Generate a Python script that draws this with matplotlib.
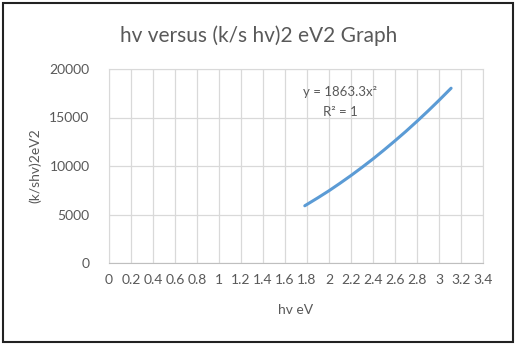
import matplotlib.pyplot as plt
from matplotlib.patches import Rectangle

# values
hv = [1.78, 1.9, 2.0, 2.1, 2.2, 2.3, 2.4, 2.5, 2.6, 2.7, 2.8, 2.9, 3.0, 3.11]
ks_hv2 = [5900, 6730, 7450, 8220, 9020, 9860, 10730, 11650, 12600, 13580, 14610, 15670, 16770, 18020]
xticks = [0, 0.2, 0.4, 0.6, 0.8, 1, 1.2, 1.4, 1.6, 1.8, 2, 2.2, 2.4, 2.6, 2.8, 3, 3.2, 3.4]
xticklabels = ['0', '0.2', '0.4', '0.6', '0.8', '1', '1.2', '1.4', '1.6', '1.8',
               '2', '2.2', '2.4', '2.6', '2.8', '3', '3.2', '3.4']
yticks = [0, 5000, 10000, 15000, 20000]

plt.rcParams['font.family'] = ['Lato', 'DejaVu Sans']
grey = '#595959'

fig = plt.figure(figsize=(5.18, 3.49), dpi=100)
ax = fig.add_axes([109/518, 1-263/349, 374/518, 194/349])

ax.plot(hv, ks_hv2, color='#5B9BD5', lw=2.2, solid_capstyle='round')

ax.set_xlim(0, 3.4)
ax.set_ylim(0, 20000)
ax.set_xticks(xticks)
ax.set_xticklabels(xticklabels)
ax.set_yticks(yticks)
ax.grid(True, color='#D9D9D9', lw=0.9)
ax.set_axisbelow(True)
for s in ['top', 'right', 'left']:
    ax.spines[s].set_color('#D9D9D9')
ax.spines['bottom'].set_color('#BFBFBF')
ax.tick_params(length=0, colors=grey, labelsize=10, pad=8)
ax.tick_params(axis='y', pad=14)

ax.set_xlabel('hv eV', color=grey, fontsize=10, labelpad=13)
ax.set_ylabel('(k/shv)2eV2', color=grey, fontsize=10, labelpad=6)
fig.text(0.5, 1-36/349, 'hv versus (k/s hv)2 eV2 Graph', ha='center', va='center',
         color=grey, fontsize=15)

ax.text(2.1, 17630, 'y = 1863.3x²', ha='center', va='center', color=grey, fontsize=9.5)
ax.text(2.1, 15570, 'R² = 1', ha='center', va='center', color=grey, fontsize=9.5)

fig.patches.append(Rectangle((3/518, 7/349), 510/518, 339/349, transform=fig.transFigure,
                             fill=False, edgecolor='#222222', lw=1.5))

fig.savefig('out.png', dpi=100)
